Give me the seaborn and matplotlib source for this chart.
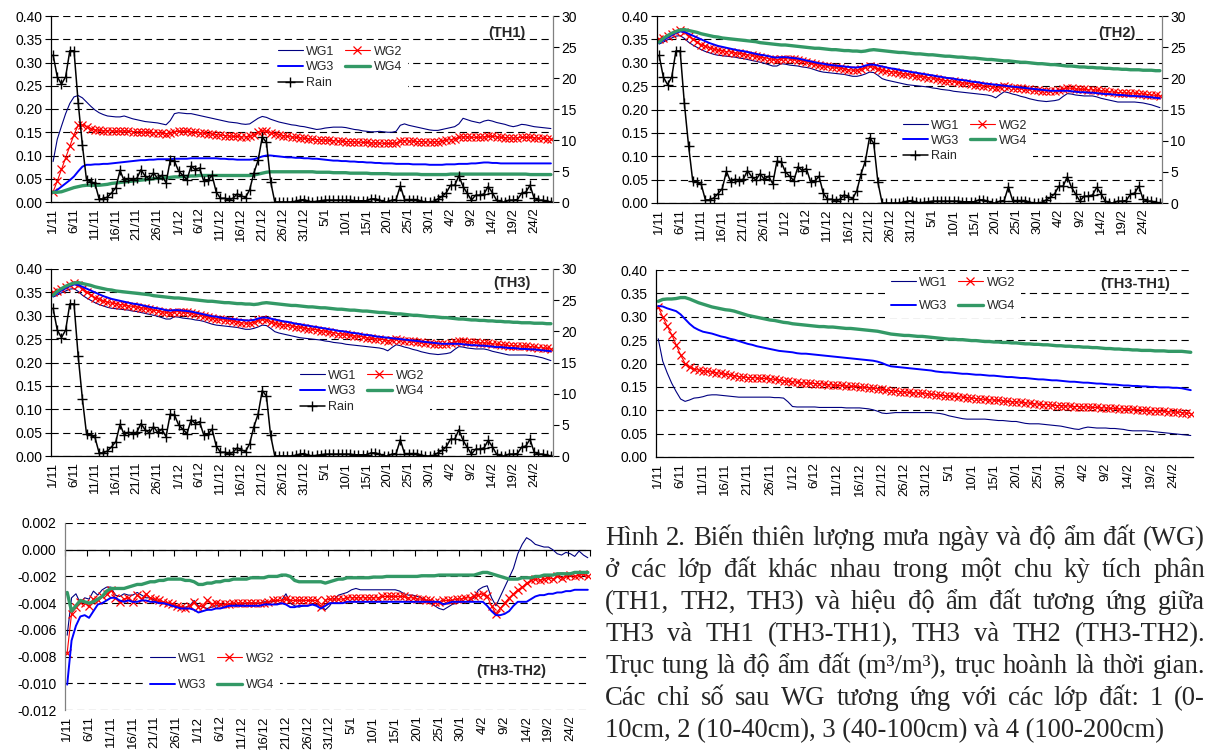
import numpy as np
import pandas as pd
import matplotlib
matplotlib.use("Agg")
import matplotlib.pyplot as plt
import seaborn as sns
from matplotlib.ticker import FormatStrFormatter, NullFormatter

# one point per day, 1/11 .. 28/2
dates = pd.date_range("2001-11-01", "2002-02-28", freq="D")
day_labels = [f"{d.day}/{d.month}" for d in dates]
days = np.arange(len(dates))

# daily rain (right axis, mm)
rain = [
    23.7, 20.2, 19.0, 20.2, 24.4, 24.4, 16.0, 9.2, 3.5, 3.3,
    3.0, 0.5, 0.5, 0.8, 1.5, 2.3, 5.1, 3.4, 3.8, 3.6,
    3.8, 5.2, 4.2, 3.7, 4.7, 3.8, 4.3, 3.1, 6.7, 6.6,
    5.0, 4.3, 3.6, 5.8, 5.2, 5.5, 3.4, 3.5, 4.3, 1.6,
    0.6, 0.6, 0.3, 0.6, 1.3, 1.0, 0.7, 2.0, 4.7, 6.7,
    10.5, 9.6, 3.3, 0.0, 0.0, 0.0, 0.0, 0.0, 0.1, 0.3,
    0.4, 0.1, 0.0, 0.1, 0.2, 0.3, 0.3, 0.3, 0.3, 0.3,
    0.3, 0.3, 0.2, 0.2, 0.2, 0.2, 0.5, 0.5, 0.3, 0.0,
    0.0, 0.3, 0.4, 2.6, 0.4, 0.4, 0.4, 0.4, 0.1, 0.0,
    0.0, 0.1, 0.5, 0.9, 1.5, 2.7, 2.7, 4.2, 2.5, 1.4,
    0.3, 1.1, 1.1, 1.3, 2.5, 1.5, 0.3, 0.0, 0.0, 0.3,
    0.3, 0.4, 1.4, 1.6, 2.7, 0.6, 0.3, 0.3, 0.1, 0.0,
]

# TH1 soil moisture
th1_wg1 = [
    .087, .135, .163, .190, .212, .226, .229, .224, .215, .206,
    .198, .192, .188, .185, .184, .183, .183, .185, .182, .179,
    .177, .175, .173, .172, .171, .170, .168, .166, .175, .190,
    .192, .191, .190, .190, .188, .186, .184, .182, .180, .178,
    .176, .174, .172, .171, .170, .168, .167, .168, .174, .180,
    .184, .182, .178, .175, .172, .170, .168, .166, .165, .163,
    .162, .160, .158, .156, .157, .159, .160, .161, .161, .161,
    .160, .158, .156, .155, .153, .152, .151, .151, .152, .151,
    .150, .150, .152, .165, .168, .165, .163, .161, .159, .157,
    .155, .154, .154, .156, .158, .160, .162, .168, .180, .177,
    .174, .172, .170, .174, .176, .174, .171, .169, .167, .164,
    .162, .164, .167, .166, .164, .162, .161, .160, .159, .158,
]
th1_wg2 = [
    .022, .045, .070, .095, .120, .145, .165, .166, .162, .158,
    .155, .154, .153, .153, .153, .152, .152, .153, .152, .151,
    .151, .151, .150, .150, .149, .149, .148, .147, .148, .151,
    .152, .152, .152, .151, .150, .149, .148, .147, .146, .145,
    .144, .143, .142, .141, .141, .140, .140, .141, .145, .150,
    .153, .152, .149, .147, .145, .143, .141, .140, .139, .138,
    .137, .136, .135, .134, .134, .133, .133, .132, .131, .131,
    .130, .130, .129, .129, .128, .128, .127, .127, .127, .126,
    .126, .126, .127, .131, .132, .131, .131, .130, .130, .129,
    .129, .129, .130, .131, .133, .134, .136, .139, .140, .140,
    .139, .139, .139, .140, .141, .141, .140, .139, .138, .138,
    .137, .138, .139, .139, .139, .138, .137, .137, .136, .136,
]
th1_wg3 = [
    .020, .026, .033, .040, .047, .055, .066, .076, .080, .080,
    .081, .081, .082, .082, .083, .084, .085, .086, .087, .088,
    .089, .090, .090, .091, .091, .092, .092, .092, .092, .093,
    .093, .093, .093, .094, .094, .094, .094, .094, .094, .094,
    .093, .093, .092, .092, .091, .091, .091, .091, .092, .095,
    .098, .100, .100, .099, .098, .097, .096, .096, .095, .095,
    .094, .094, .093, .093, .092, .091, .090, .089, .089, .088,
    .088, .087, .087, .086, .086, .085, .085, .084, .084, .083,
    .083, .083, .082, .082, .082, .082, .081, .081, .081, .081,
    .080, .080, .080, .080, .081, .081, .081, .082, .082, .082,
    .083, .083, .084, .085, .085, .084, .084, .083, .083, .083,
    .083, .083, .083, .083, .083, .083, .083, .083, .083, .083,
]
th1_wg4 = [
    .021, .021, .022, .025, .028, .031, .033, .035, .036, .036,
    .036, .036, .037, .038, .040, .041, .042, .043, .044, .045,
    .046, .047, .048, .049, .050, .051, .052, .052, .053, .054,
    .054, .055, .055, .056, .056, .057, .057, .057, .057, .057,
    .057, .057, .057, .057, .057, .057, .057, .057, .058, .060,
    .062, .064, .065, .065, .065, .065, .065, .065, .065, .065,
    .065, .065, .065, .064, .064, .064, .064, .063, .063, .063,
    .063, .062, .062, .062, .062, .062, .061, .061, .061, .061,
    .061, .060, .060, .060, .060, .060, .060, .060, .059, .059,
    .059, .059, .059, .059, .059, .060, .060, .060, .060, .060,
    .060, .060, .060, .060, .060, .060, .060, .060, .060, .060,
    .060, .060, .060, .060, .059, .059, .059, .059, .059, .059,
]

# TH3 soil moisture
th3_wg1 = [
    .340, .344, .349, .353, .357, .358, .352, .344, .338, .333,
    .328, .324, .321, .318, .316, .315, .314, .313, .312, .310,
    .309, .307, .305, .303, .301, .299, .296, .293, .293, .298,
    .297, .295, .294, .293, .291, .290, .288, .285, .282, .280,
    .279, .278, .277, .276, .275, .273, .271, .271, .273, .276,
    .280, .279, .273, .266, .263, .261, .259, .257, .255, .253,
    .252, .251, .250, .249, .248, .246, .245, .243, .242, .241,
    .239, .238, .237, .236, .235, .234, .233, .232, .231, .229,
    .225, .232, .238, .236, .233, .231, .228, .226, .223, .221,
    .219, .218, .217, .218, .219, .221, .228, .234, .233, .231,
    .230, .229, .229, .229, .227, .224, .222, .220, .218, .216,
    .216, .216, .216, .216, .215, .214, .212, .210, .207, .204,
]
th3_wg2 = [
    .350, .354, .358, .362, .366, .369, .366, .358, .350, .344,
    .339, .335, .332, .329, .327, .326, .324, .323, .321, .320,
    .319, .317, .316, .314, .312, .311, .309, .307, .306, .308,
    .309, .308, .307, .306, .304, .302, .300, .297, .295, .294,
    .292, .291, .290, .289, .287, .285, .284, .284, .286, .290,
    .292, .291, .287, .284, .282, .281, .280, .278, .277, .275,
    .274, .272, .271, .270, .268, .267, .265, .264, .262, .261,
    .260, .258, .257, .256, .255, .253, .252, .251, .250, .249,
    .247, .248, .250, .249, .247, .246, .245, .244, .243, .242,
    .241, .240, .240, .240, .240, .241, .244, .246, .245, .244,
    .243, .243, .242, .242, .241, .240, .239, .238, .237, .236,
    .236, .235, .235, .235, .234, .233, .232, .231, .230, .229,
]
th3_wg3 = [
    .342, .348, .354, .359, .364, .367, .366, .362, .358, .354,
    .350, .346, .342, .339, .336, .334, .332, .330, .328, .326,
    .325, .323, .321, .319, .317, .316, .314, .312, .311, .312,
    .312, .311, .310, .309, .307, .305, .303, .301, .299, .298,
    .296, .295, .294, .293, .292, .291, .290, .290, .291, .294,
    .296, .296, .294, .292, .290, .288, .287, .285, .283, .282,
    .280, .279, .277, .276, .274, .273, .271, .270, .268, .267,
    .266, .264, .263, .262, .260, .259, .258, .256, .255, .254,
    .253, .252, .251, .250, .249, .248, .247, .246, .245, .244,
    .243, .242, .241, .240, .240, .240, .240, .240, .239, .238,
    .237, .237, .236, .236, .235, .234, .233, .233, .232, .231,
    .231, .230, .229, .229, .228, .228, .227, .226, .225, .224,
]
th3_wg4 = [
    .344, .352, .358, .363, .367, .370, .371, .369, .367, .365,
    .362, .360, .358, .356, .355, .353, .352, .351, .350, .349,
    .348, .347, .346, .345, .343, .342, .341, .340, .339, .338,
    .338, .337, .336, .335, .334, .333, .332, .331, .331, .330,
    .329, .328, .328, .327, .326, .326, .325, .325, .324, .325,
    .327, .328, .327, .326, .325, .324, .323, .322, .322, .321,
    .320, .319, .319, .318, .317, .317, .316, .315, .314, .314,
    .313, .312, .312, .311, .310, .310, .309, .308, .307, .307,
    .306, .305, .304, .304, .303, .302, .301, .301, .300, .299,
    .298, .298, .297, .296, .296, .295, .294, .293, .293, .292,
    .291, .291, .290, .290, .289, .289, .288, .288, .287, .287,
    .286, .286, .285, .285, .285, .284, .284, .284, .283, .283,
]

# TH2 curves read the same as TH3 at this scale (their gap is the TH3-TH2 panel)
th2_wg1, th2_wg2, th2_wg3, th2_wg4 = th3_wg1, th3_wg2, th3_wg3, th3_wg4

# TH3-TH1 differences
d1_wg1 = [
    .253, .205, .180, .158, .140, .124, .119, .122, .126, .127,
    .129, .132, .133, .133, .132, .131, .130, .129, .128, .128,
    .128, .128, .128, .128, .128, .128, .127, .127, .126, .118,
    .108, .107, .107, .107, .107, .107, .106, .106, .106, .106,
    .106, .106, .105, .105, .105, .105, .104, .103, .101, .098,
    .094, .093, .094, .095, .095, .095, .095, .095, .095, .095,
    .095, .095, .094, .093, .091, .088, .086, .084, .082, .081,
    .081, .081, .081, .081, .080, .079, .078, .078, .077, .076,
    .076, .074, .072, .071, .071, .071, .070, .069, .068, .067,
    .066, .064, .062, .060, .059, .062, .064, .063, .062, .062,
    .062, .061, .061, .060, .059, .057, .056, .056, .056, .056,
    .055, .054, .053, .052, .051, .050, .049, .048, .047, .046,
]
d1_wg2 = [
    .321, .300, .280, .262, .240, .218, .200, .192, .188, .186,
    .185, .183, .182, .180, .179, .177, .176, .174, .172, .171,
    .170, .170, .169, .168, .168, .167, .166, .165, .163, .162,
    .161, .160, .159, .158, .158, .157, .157, .156, .155, .154,
    .153, .153, .152, .151, .151, .150, .149, .148, .147, .146,
    .145, .143, .142, .141, .140, .139, .138, .137, .137, .136,
    .135, .134, .133, .132, .131, .130, .130, .129, .128, .127,
    .126, .125, .124, .123, .122, .122, .121, .120, .119, .118,
    .118, .117, .116, .115, .114, .113, .112, .112, .111, .110,
    .110, .109, .109, .108, .108, .107, .107, .106, .106, .105,
    .105, .104, .104, .103, .103, .102, .102, .101, .101, .100,
    .099, .099, .098, .098, .097, .096, .096, .095, .094, .093,
]
d1_wg3 = [
    .323, .322, .318, .315, .312, .305, .295, .285, .277, .272,
    .268, .266, .264, .261, .258, .256, .253, .251, .248, .245,
    .242, .240, .237, .235, .233, .231, .229, .227, .226, .225,
    .224, .222, .221, .221, .220, .219, .218, .217, .216, .215,
    .214, .213, .212, .211, .210, .209, .208, .207, .206, .204,
    .201, .197, .194, .193, .192, .191, .190, .189, .188, .187,
    .186, .185, .183, .182, .181, .181, .180, .179, .178, .178,
    .177, .176, .176, .175, .174, .174, .173, .172, .171, .171,
    .170, .169, .169, .168, .167, .166, .166, .165, .164, .164,
    .163, .162, .161, .161, .160, .159, .159, .158, .157, .157,
    .156, .155, .155, .154, .153, .153, .152, .152, .151, .151,
    .150, .150, .149, .149, .149, .148, .148, .147, .145, .143,
]
d1_wg4 = [
    .333, .337, .338, .338, .339, .341, .341, .338, .334, .330,
    .327, .324, .321, .319, .317, .315, .314, .312, .309, .306,
    .303, .301, .299, .297, .295, .293, .292, .290, .288, .287,
    .285, .284, .283, .282, .281, .280, .279, .279, .278, .278,
    .277, .276, .275, .275, .274, .273, .272, .271, .270, .269,
    .267, .265, .263, .262, .261, .260, .260, .259, .258, .258,
    .257, .256, .255, .254, .253, .252, .252, .251, .251, .250,
    .249, .249, .248, .247, .247, .246, .246, .245, .245, .244,
    .244, .243, .242, .242, .241, .241, .240, .240, .239, .238,
    .238, .237, .237, .236, .236, .235, .235, .234, .234, .233,
    .232, .232, .231, .231, .230, .230, .229, .229, .228, .228,
    .228, .227, .227, .227, .226, .226, .226, .226, .225, .224,
]

# TH3-TH2 differences, in thousandths
d2_wg1 = [
    -6.4, -3.6, -3.3, -4.0, -3.6, -3.7, -3.1, -3.4, -3.0, -2.8,
    -2.8, -3.4, -3.5, -3.3, -3.4, -3.4, -3.2, -3.4, -3.6, -3.6,
    -3.8, -3.9, -4.0, -4.0, -4.1, -4.2, -4.3, -4.3, -4.2, -3.8,
    -4.2, -4.3, -4.4, -4.3, -4.2, -4.2, -4.1, -4.1, -4.1, -4.1,
    -4.1, -4.0, -4.0, -4.0, -4.0, -3.9, -3.9, -3.9, -3.8, -3.8,
    -3.3, -4.0, -4.2, -4.3, -4.2, -4.2, -4.1, -4.1, -4.2, -4.5,
    -4.2, -3.7, -3.4, -3.3, -3.2, -3.0, -2.9, -3.0, -3.0, -3.0,
    -3.0, -3.0, -3.0, -3.0, -3.0, -3.0, -3.1, -3.3, -3.4, -3.4,
    -3.5, -3.6, -3.8, -4.0, -4.2, -4.4, -4.5, -4.3, -4.1, -4.0,
    -3.9, -3.9, -3.8, -3.6, -3.0, -2.8, -2.7, -3.6, -4.2, -3.5,
    -2.8, -2.1, -1.4, -0.3, 0.4, 0.9, 0.7, 0.4, 0.3, 0.2,
    0.2, 0.0, -0.3, -0.4, -0.2, -0.3, -0.5, -0.1, -0.4, -0.6,
]
d2_wg2 = [
    -7.7, -4.8, -4.3, -3.9, -4.0, -4.2, -3.7, -3.8, -3.5, -3.3,
    -3.0, -3.6, -3.9, -3.7, -3.6, -3.9, -3.4, -3.7, -3.3, -3.6,
    -3.7, -3.8, -3.9, -4.0, -4.1, -4.2, -4.3, -4.4, -4.2, -3.9,
    -4.3, -4.2, -3.8, -4.1, -4.0, -4.1, -4.1, -4.1, -4.0, -4.0,
    -4.0, -4.0, -4.0, -4.0, -4.0, -4.0, -3.9, -3.8, -3.8, -3.8,
    -3.7, -3.8, -3.8, -3.8, -3.8, -3.8, -3.8, -3.8, -4.3, -3.8,
    -3.7, -3.7, -3.7, -3.7, -3.6, -3.6, -3.6, -3.6, -3.6, -3.6,
    -3.6, -3.6, -3.5, -3.5, -3.5, -3.5, -3.5, -3.5, -3.6, -3.6,
    -3.7, -3.7, -3.8, -3.8, -3.9, -3.9, -3.8, -3.8, -3.8, -3.7,
    -3.7, -3.6, -3.6, -3.5, -3.4, -3.3, -3.5, -4.2, -4.8, -4.4,
    -4.0, -3.6, -3.3, -3.0, -2.8, -2.5, -2.3, -2.2, -2.3, -2.2,
    -2.1, -2.2, -2.0, -2.1, -2.0, -1.9, -2.0, -1.9, -1.8, -2.0,
]
d2_wg3 = [
    -10.1, -6.8, -5.7, -5.0, -4.9, -5.1, -4.6, -4.1, -4.0, -3.8,
    -3.6, -3.6, -3.8, -3.9, -3.8, -3.9, -3.9, -3.8, -3.8, -3.9,
    -3.9, -4.0, -4.0, -4.1, -4.2, -4.3, -4.4, -4.4, -4.4, -4.5,
    -4.7, -4.6, -4.5, -4.5, -4.4, -4.4, -4.3, -4.2, -4.2, -4.2,
    -4.2, -4.2, -4.2, -4.2, -4.2, -4.1, -4.1, -4.1, -4.1, -4.0,
    -4.1, -4.3, -4.3, -4.2, -4.2, -4.2, -4.1, -4.2, -4.4, -4.2,
    -4.0, -4.0, -4.0, -4.0, -3.9, -3.9, -3.9, -3.9, -3.9, -3.9,
    -3.9, -3.9, -3.9, -3.9, -3.9, -3.9, -3.9, -3.9, -3.9, -3.9,
    -3.9, -3.9, -3.9, -3.9, -3.9, -3.9, -4.1, -4.0, -3.9, -3.9,
    -3.9, -3.9, -3.9, -3.9, -3.9, -3.9, -4.2, -4.6, -4.9, -4.9,
    -4.8, -4.6, -4.2, -3.9, -3.9, -3.9, -3.7, -3.5, -3.4, -3.4,
    -3.3, -3.3, -3.2, -3.2, -3.1, -3.1, -3.0, -3.0, -3.0, -3.0,
]
d2_wg4 = [
    -3.2, -4.6, -4.2, -3.8, -3.9, -4.0, -3.9, -3.7, -3.5, -3.1,
    -2.9, -2.9, -2.9, -2.9, -2.8, -2.7, -2.6, -2.6, -2.5, -2.4,
    -2.4, -2.3, -2.3, -2.2, -2.2, -2.2, -2.2, -2.3, -2.3, -2.4,
    -2.6, -2.6, -2.5, -2.5, -2.4, -2.4, -2.3, -2.3, -2.2, -2.2,
    -2.2, -2.2, -2.1, -2.1, -2.1, -2.1, -2.0, -2.0, -2.0, -1.9,
    -1.9, -2.0, -2.3, -2.4, -2.4, -2.4, -2.4, -2.4, -2.4, -2.5,
    -2.4, -2.3, -2.2, -2.2, -2.1, -2.1, -2.1, -2.1, -2.1, -2.1,
    -2.05, -2.05, -2.05, -2.0, -2.0, -2.0, -2.0, -2.0, -2.0, -2.0,
    -2.0, -1.95, -1.95, -1.95, -1.95, -1.9, -1.9, -1.9, -1.9, -1.9,
    -1.9, -1.9, -1.9, -1.9, -1.8, -1.7, -1.7, -1.8, -1.9, -2.0,
    -2.1, -2.2, -2.2, -2.2, -2.1, -2.1, -2.1, -2.0, -2.0, -1.9,
    -1.9, -1.9, -1.8, -1.8, -1.8, -1.8, -1.7, -1.7, -1.7, -1.7,
]

wg_names = ["WG1", "WG2", "WG3", "WG4"]

caption_lines = [
    "Hình 2. Biến thiên lượng mưa ngày và độ ẩm đất (WG)",
    "ở các lớp đất khác nhau trong một chu kỳ tích phân",
    "(TH1, TH2, TH3) và hiệu độ ẩm đất tương ứng giữa",
    "TH3 và TH1 (TH3-TH1), TH3 và TH2 (TH3-TH2).",
    "Trục tung là độ ẩm đất (m³/m³), trục hoành là thời gian.",
    "Các chỉ số sau WG tương ứng với các lớp đất: 1 (0-",
    "10cm, 2 (10-40cm), 3 (40-100cm) và 4 (100-200cm)",
]

for name, arr in [("rain", rain), ("th1_wg1", th1_wg1), ("th1_wg2", th1_wg2),
                  ("th1_wg3", th1_wg3), ("th1_wg4", th1_wg4), ("th3_wg1", th3_wg1),
                  ("th3_wg2", th3_wg2), ("th3_wg3", th3_wg3), ("th3_wg4", th3_wg4),
                  ("d1_wg1", d1_wg1), ("d1_wg2", d1_wg2), ("d1_wg3", d1_wg3),
                  ("d1_wg4", d1_wg4), ("d2_wg1", d2_wg1), ("d2_wg2", d2_wg2),
                  ("d2_wg3", d2_wg3), ("d2_wg4", d2_wg4)]:
    assert len(arr) == len(days), (name, len(arr))

sns.set_style("white")
plt.rcParams["font.family"] = ["Liberation Sans", "DejaVu Sans"]
plt.rcParams["axes.unicode_minus"] = False

W, H = 1208, 753
fig = plt.figure(figsize=(W / 100, H / 100), dpi=100)

styles = {
    "WG1": dict(color="#000080", lw=0.8),
    "WG2": dict(color="#ff0000", lw=0.8, marker="x", ms=6.0, mew=0.9, mec="#ff0000"),
    "WG3": dict(color="#0000ff", lw=1.4),
    "WG4": dict(color="#339966", lw=2.4),
}
grid_ls = (0, (6.5, 4))


def rect(l, r, t, b):
    return [l / W, 1 - b / H, (r - l) / W, (b - t) / H]


def setup_x(ax, ticks=True):
    ax.set_xlim(-0.5, len(days) - 0.5)
    ax.set_xticks(days[::5])
    ax.set_xticklabels(day_labels[::5], rotation=90, fontsize=9.5)
    ax.set_xticks(np.arange(-0.5, len(days), 5), minor=True)
    ax.tick_params(axis="x", which="major", length=0, pad=4, colors="k")
    ax.tick_params(axis="x", which="minor", length=4 if ticks else 0,
                   width=0.8, direction="out", color="k")
    ax.set_xlabel("")


def setup_y(ax, lo, hi, step, fmt):
    ticks = np.round(np.arange(lo, hi + step / 2, step), 4) + 0.0
    ax.set_ylim(lo, hi)
    ax.set_yticks(ticks)
    ax.yaxis.set_major_formatter(FormatStrFormatter(fmt))
    ax.tick_params(axis="y", length=4, width=0.8, direction="out",
                   labelsize=10, pad=2, colors="k")
    ax.yaxis.grid(True, color="k", lw=0.8, ls=grid_ls)
    ax.xaxis.grid(False)
    ax.set_axisbelow(True)
    ax.set_ylabel("")


def add_legend(target, handles, labels, box_l, box_t, spacing):
    target.legend(handles, labels, ncol=2, loc="upper left",
                  bbox_to_anchor=(box_l / W, 1 - box_t / H),
                  bbox_transform=fig.transFigure, frameon=True, fancybox=False,
                  facecolor="white", edgecolor="none", framealpha=1,
                  fontsize=9, handlelength=2.0, handletextpad=0.3,
                  columnspacing=0.8, labelspacing=spacing, borderpad=0.45,
                  borderaxespad=0)


def draw_panel(box, series, label, label_xy, leg_box, spacing, with_rain,
               lo, hi, step, fmt, scale=1.0):
    ax = fig.add_axes(rect(*box))
    handles = []
    for nm, vals in zip(wg_names, series):
        sns.lineplot(x=days, y=np.array(vals) * scale, ax=ax, **styles[nm])
        handles.append(ax.lines[-1])
    setup_x(ax)
    setup_y(ax, lo, hi, step, fmt)
    ax.spines["top"].set_visible(False)
    ax.spines["right"].set_visible(False)
    for s in ["left", "bottom"]:
        ax.spines[s].set_color("k")
        ax.spines[s].set_linewidth(0.9)
    ax.text(label_xy[0], label_xy[1], label, transform=ax.transAxes,
            ha="right", va="center", fontsize=10.5, fontweight="bold")
    # legend order so that rows read WG1 WG2 / WG3 WG4 / Rain
    order = [0, 2, 1, 3]
    leg_h = [handles[i] for i in order]
    leg_l = [wg_names[i] for i in order]
    target = ax
    if with_rain:
        ax2 = ax.twinx()
        sns.lineplot(x=days, y=rain, ax=ax2, color="k", lw=1.1, marker="+",
                     ms=6.5, mew=1.0, mec="k")
        ax2.set_xlim(-0.5, len(days) - 0.5)
        ax2.set_ylim(0, 30)
        ax2.set_yticks(range(0, 31, 5))
        ax2.tick_params(axis="y", length=4, width=0.8, direction="out",
                        labelsize=10, pad=2, colors="k")
        ax2.grid(False)
        ax2.set_ylabel("")
        for s in ["top", "left", "bottom"]:
            ax2.spines[s].set_visible(False)
        ax2.spines["right"].set_color("#808080")
        ax2.spines["right"].set_linewidth(0.9)
        leg_h = leg_h[:2] + [ax2.lines[-1]] + leg_h[2:]
        leg_l = leg_l[:2] + ["Rain"] + leg_l[2:]
        target = ax2
    add_legend(target, leg_h, leg_l, leg_box[0], leg_box[1], spacing)
    return ax


draw_panel((51, 553, 16, 202), [th1_wg1, th1_wg2, th1_wg3, th1_wg4], "(TH1)",
           (0.946, 0.91), (272, 40), 0.3, True, 0, 0.40, 0.05, "%.2f")
draw_panel((657, 1162, 16, 203), [th2_wg1, th2_wg2, th2_wg3, th2_wg4], "(TH2)",
           (0.947, 0.91), (897, 114), 0.25, True, 0, 0.40, 0.05, "%.2f")
draw_panel((51, 553, 269, 456), [th3_wg1, th3_wg2, th3_wg3, th3_wg4], "(TH3)",
           (0.956, 0.925), (294, 364), 0.3, True, 0, 0.40, 0.05, "%.2f")
draw_panel((656, 1193, 270, 457), [d1_wg1, d1_wg2, d1_wg3, d1_wg4], "(TH3-TH1)",
           (0.957, 0.925), (885, 271), 0.9, False, 0, 0.40, 0.05, "%.2f")
ax5 = draw_panel((65, 590, 523, 710), [d2_wg1, d2_wg2, d2_wg3, d2_wg4], "(TH3-TH2)",
                 (0.916, 0.21), (144, 647), 1.15, False, -0.012, 0.002, 0.002,
                 "%.3f", scale=0.001)
# the category axis of the difference panel crosses at zero
ax5.spines["bottom"].set_visible(False)
ax5.spines["left"].set_color("#808080")
ax5.tick_params(axis="x", which="minor", length=0)
zero_frac = (0 - (-0.012)) / (0.002 - (-0.012))
sec = ax5.secondary_xaxis(zero_frac)
sec.set_xticks(np.arange(-0.5, len(days), 5))
sec.xaxis.set_major_formatter(NullFormatter())
sec.tick_params(axis="x", direction="in", length=4, width=0.8, color="k")
for s in sec.spines.values():
    s.set_color("k")
    s.set_linewidth(0.9)

# caption, justified like the source
renderer = fig.canvas.get_renderer()
cap_family = ["Liberation Serif", "DejaVu Serif"]


def text_width(s, fs):
    t = fig.text(0, 0, s, fontsize=fs, family=cap_family)
    w = t.get_window_extent(renderer).width
    t.remove()
    return w


cap_left, cap_right = 605, 1205
cap_fs = 15 * 560 / text_width(caption_lines[-1], 15)
base0, pitch = 545, 32
for k, line in enumerate(caption_lines):
    y = 1 - (base0 + k * pitch) / H
    if k == len(caption_lines) - 1:
        fig.text(cap_left / W, y, line, fontsize=cap_fs, family=cap_family,
                 ha="left", va="baseline")
        continue
    words = line.split(" ")
    widths = [text_width(w, cap_fs) for w in words]
    gap = (cap_right - cap_left - sum(widths)) / (len(words) - 1)
    x = cap_left
    for w, wd in zip(words, widths):
        fig.text(x / W, y, w, fontsize=cap_fs, family=cap_family,
                 ha="left", va="baseline")
        x += wd + gap

fig.savefig("out.png", dpi=100)
